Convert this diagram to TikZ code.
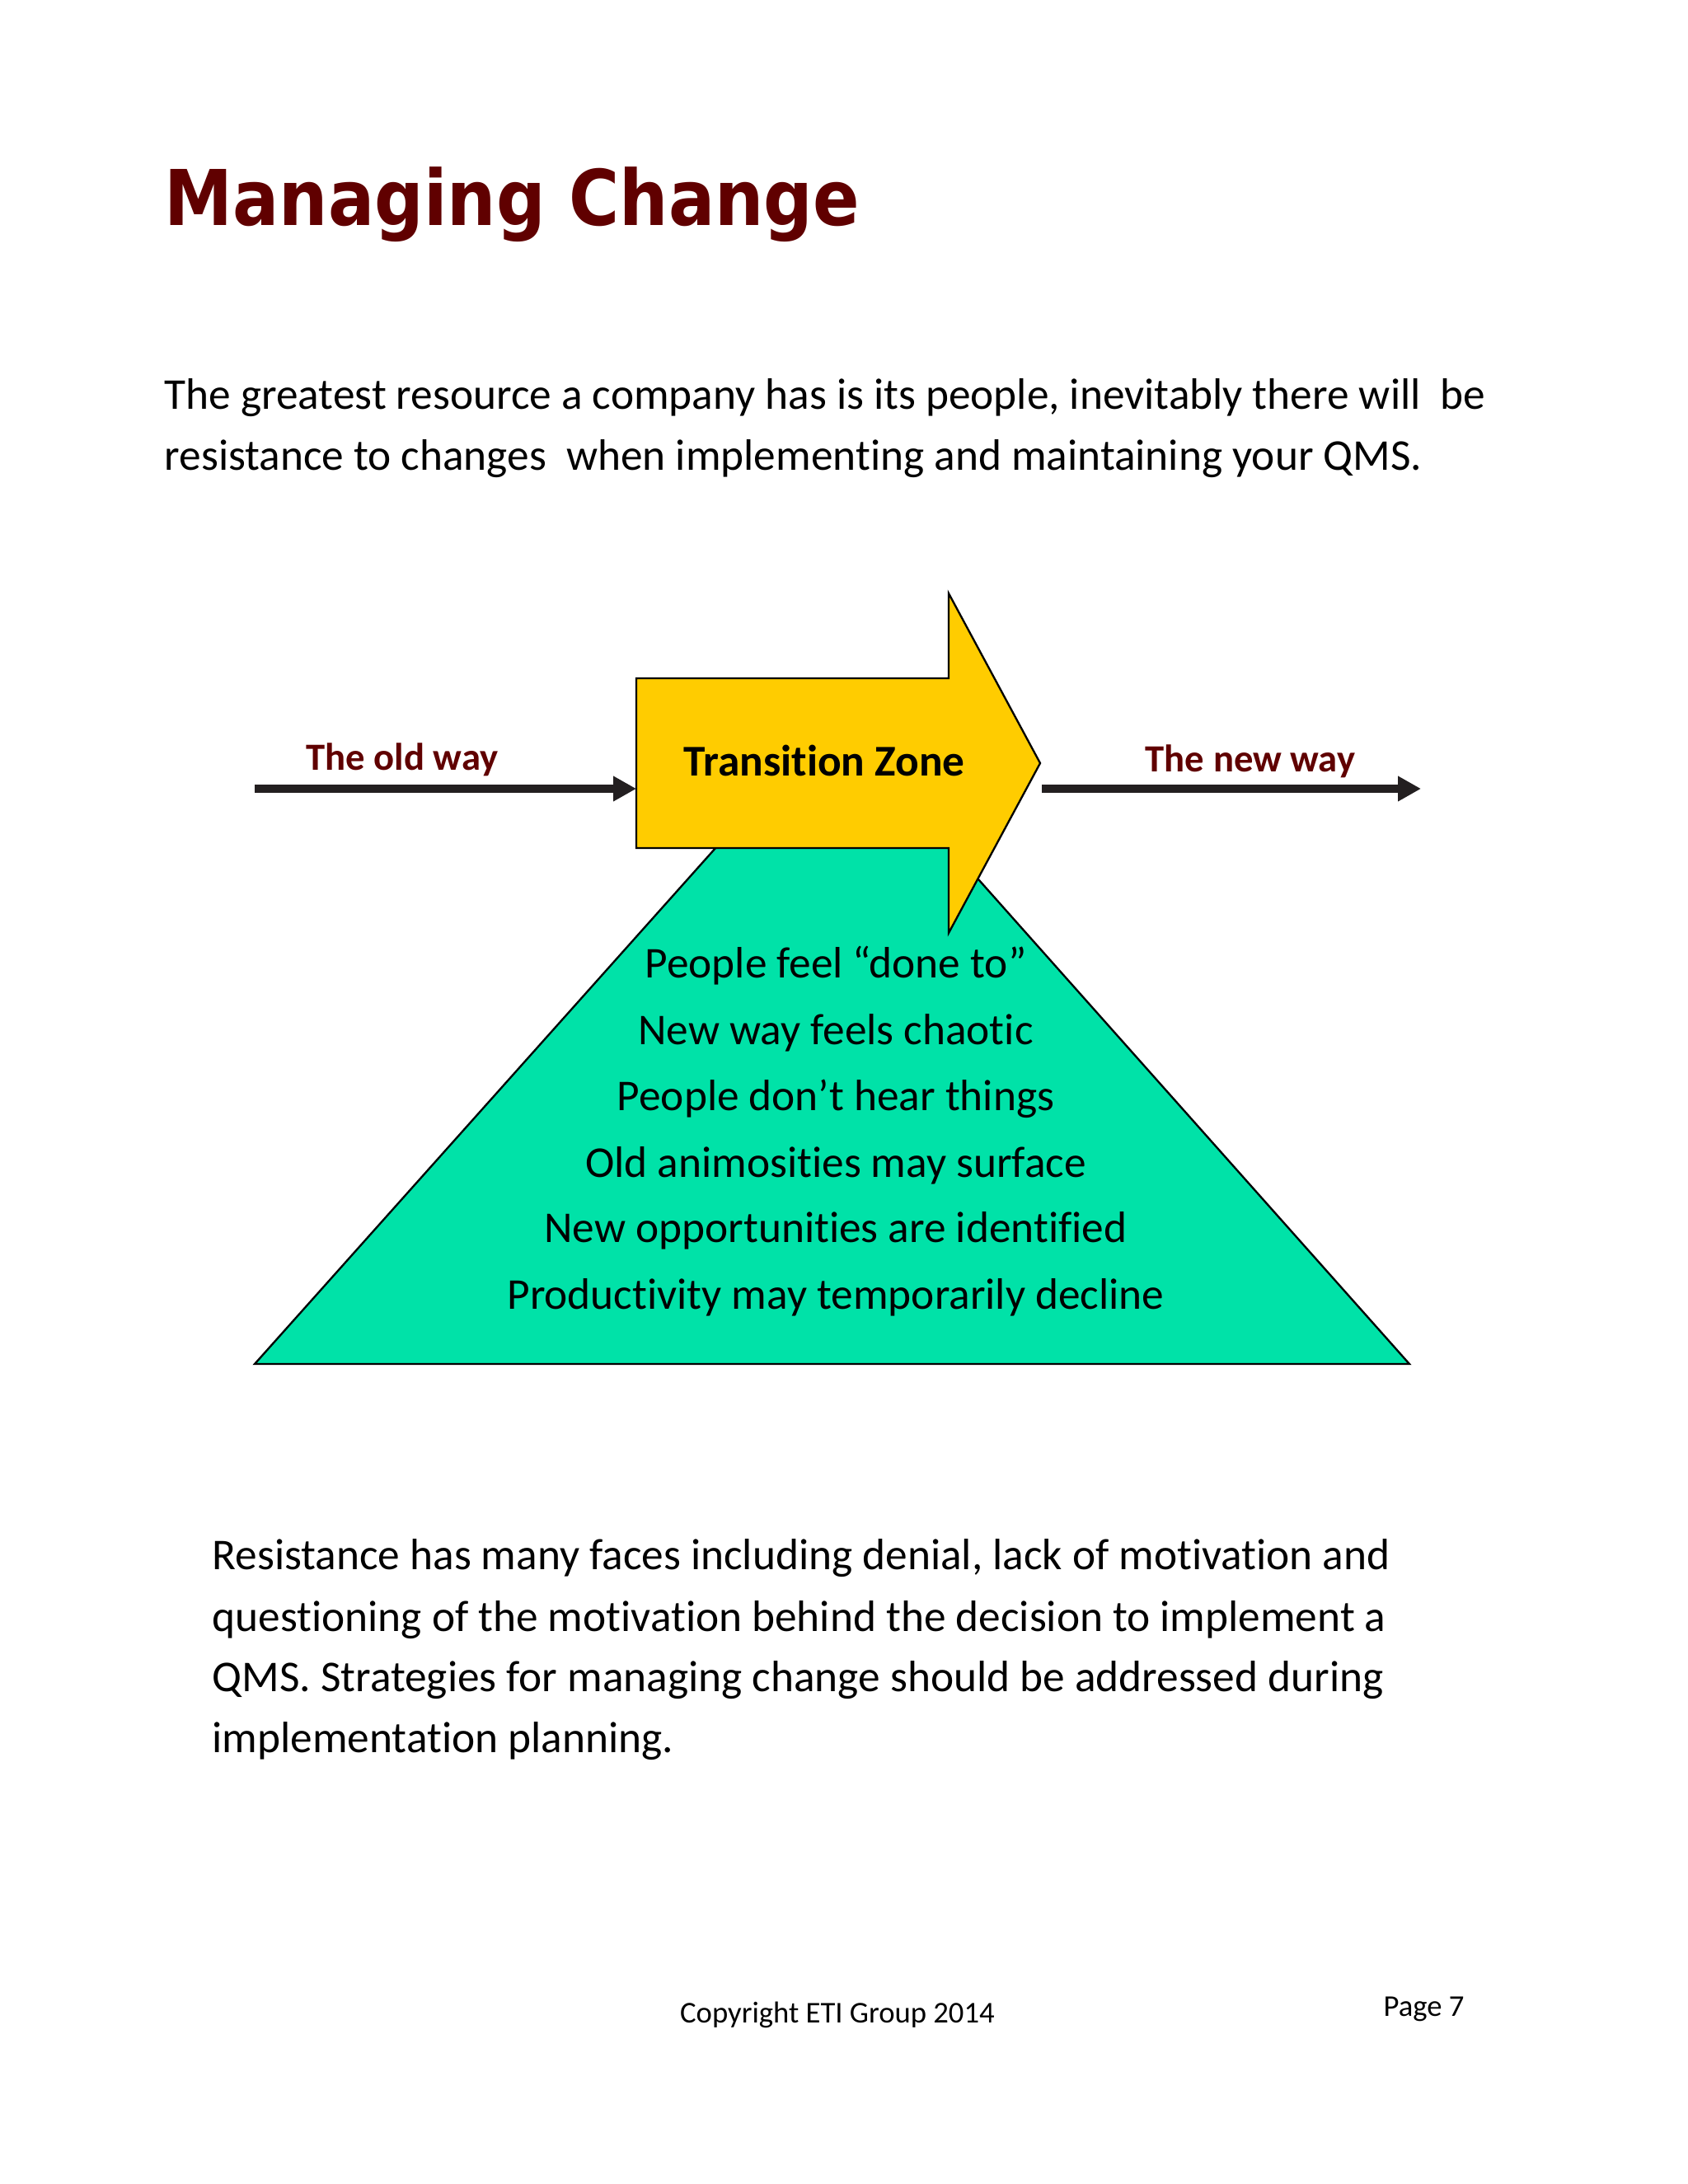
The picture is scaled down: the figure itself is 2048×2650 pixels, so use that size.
\documentclass[tikz,border=0pt]{standalone}
\usepackage{fontspec}
\setmainfont{Carlito}[Ligatures=NoCommon]
\newfontfamily\titlefont{DejaVu Sans}
\usetikzlibrary{arrows.meta}
\definecolor{darkred}{RGB}{96,0,0}
\definecolor{tzyellow}{RGB}{255,204,0}
\definecolor{tzgreen}{RGB}{0,226,168}
\definecolor{linegray}{RGB}{35,31,32}
\tikzset{
  bodytext/.style={anchor=base west, inner sep=0pt, font=\fontsize{16}{18}\selectfont},
  label/.style={anchor=base, inner sep=0pt, text=darkred, font=\fontsize{14}{16}\selectfont\bfseries},
  tritext/.style={anchor=base, inner sep=0pt, font=\fontsize{16}{18}\selectfont},
  foot/.style={anchor=base, inner sep=0pt, font=\fontsize{11}{13}\selectfont},
  flow/.style={draw=linegray, line width=3pt, -{Triangle[length=8.4pt, width=8.7pt]}},
  shapeline/.style={draw=black, line width=0.7pt, line join=miter}
}
\begin{document}
\begin{tikzpicture}[x=0.3pt, y=-0.3pt]
\useasboundingbox (0,0) rectangle (2048,2650);
\fill[white] (0,0) rectangle (2048,2650);

% title
\node[anchor=base west, inner sep=0pt, text=darkred] (title) at (199,273)
  {\scalebox{0.893}[1]{\titlefont\fontsize{28}{32}\selectfont\bfseries Managing Change}};

% intro paragraph
\node[bodytext] (p1) at (199,496) {The greatest resource a company has is its people, inevitably there will~ be};
\node[bodytext] (p2) at (199,570) {resistance to changes~ when implementing and maintaining your QMS.};

% triangle
\path[shapeline, fill=tzgreen] (309,1655) -- (1011,869) -- (1710,1655) -- cycle;
\coordinate (tribase) at (1010,1655);

% transition arrow
\path[shapeline, fill=tzyellow] (772,823) -- (1151,823) -- (1151,720) -- (1262,926)
  -- (1151,1132) -- (1151,1029) -- (772,1029) -- cycle;
\coordinate (tzin) at (772,957);
\coordinate (tzout) at (1264,957);
\node[anchor=base, inner sep=0pt, font=\fontsize{16}{18}\selectfont\bfseries] (tz) at (1000,941) {Transition Zone};

% flow arrows
\coordinate (oldstart) at (309,957);
\coordinate (newend) at (1724,957);
\draw[flow] (oldstart) -- (tzin);
\draw[flow] (tzout) -- (newend);
\node[label] (old) at (488,934) {The old way};
\node[label] (new) at (1517,936) {The new way};

% triangle text
\node[tritext] (t1) at (1014,1186) {People feel “done to”};
\node[tritext] (t2) at (1014,1267) {New way feels chaotic};
\node[tritext] (t3) at (1014,1347) {People don’t hear things};
\node[tritext] (t4) at (1014,1428) {Old animosities may surface};
\node[tritext] (t5) at (1014,1507) {New opportunities are identified};
\node[tritext] (t6) at (1014,1588) {Productivity may temporarily decline};

% closing paragraph
\node[bodytext] (q1) at (257,1904) {Resistance has many faces including denial, lack of motivation and};
\node[bodytext] (q2) at (257,1979) {questioning of the motivation behind the decision to implement a};
\node[bodytext] (q3) at (257,2052) {QMS. Strategies for managing change should be addressed during};
\node[bodytext] (q4) at (257,2126) {implementation planning.};

% footer
\node[foot] (copy) at (1016,2454) {Copyright ETI Group 2014};
\node[foot, anchor=base west] (page) at (1678,2446) {Page 7};
\end{tikzpicture}
\end{document}
